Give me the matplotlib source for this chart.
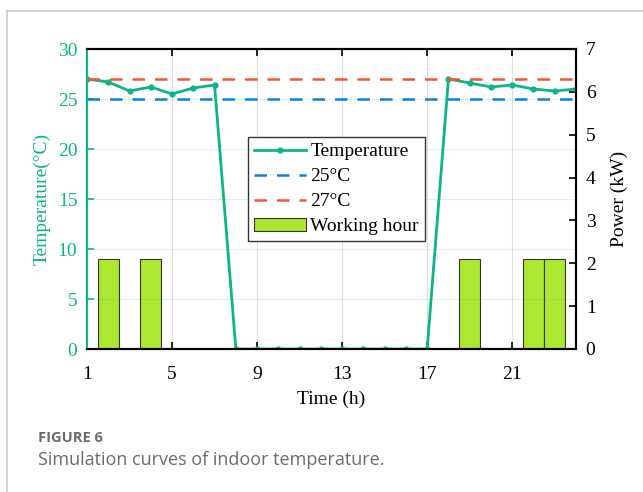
import numpy as np
import matplotlib.pyplot as plt
from matplotlib.patches import Patch
from matplotlib.lines import Line2D

# data
hours = list(range(1, 25))
temperature = [27.0, 26.7, 25.8, 26.2, 25.5, 26.1, 26.4, 0, 0, 0, 0, 0,
               0, 0, 0, 0, 0, 27.0, 26.6, 26.2, 26.4, 26.0, 25.8, 26.0]
power = [0, 2.1, 0, 2.1, 0, 0, 0, 0, 0, 0, 0, 0,
         0, 0, 0, 0, 0, 0, 2.1, 0, 0, 2.1, 2.1, 0]
low_limit = 25
high_limit = 27
xticks = [1, 5, 9, 13, 17, 21]

green = "#0DB488"
blue = "#0B80E3"
orange = "#F0582F"
barcol = "#AEE732"
fs = 14

plt.rcParams['font.family'] = ['Liberation Serif', 'DejaVu Serif']

W, H = 643, 492
fig = plt.figure(figsize=(W / 100, H / 100), dpi=100)

# frame lines around the figure panel
fig.add_artist(Line2D([7 / W, 1], [1 - 11 / H, 1 - 11 / H], color="#cccccc", lw=1.2))
fig.add_artist(Line2D([7 / W, 7 / W], [0, 1 - 11 / H], color="#cccccc", lw=1.2))

ax = fig.add_axes([87 / W, 1 - 349 / H, (576 - 87) / W, (349 - 49) / H])
ax2 = ax.twinx()
ax.set_zorder(ax2.get_zorder() + 1)
ax.patch.set_visible(False)

# bars (power) on the right axis
ax2.bar(hours, power, width=1.0, color=barcol, edgecolor="#333333", linewidth=0.8)
ax2.set_ylim(0, 7)
ax2.set_yticks(range(0, 8))
ax2.set_ylabel("Power (kW)", fontsize=fs, labelpad=11)

# temperature + limits on the left axis
ax.plot(hours, temperature, color=green, lw=2, marker="o", ms=3.5)
ax.axhline(low_limit, color=blue, lw=1.8, ls=(0, (5, 4)))
ax.axhline(high_limit, color=orange, lw=1.8, ls=(0, (5, 4)))
ax.set_xlim(1, 24)
ax.set_ylim(0, 30)
ax.set_xticks(xticks)
ax.set_yticks(range(0, 31, 5))
ax.set_xlabel("Time (h)", fontsize=fs, labelpad=6)
ax.set_ylabel("Temperature(°C)", fontsize=fs, color=green, labelpad=5)

# grids: horizontal green-ish, vertical gray
for y in range(5, 30, 5):
    ax.axhline(y, color=green, alpha=0.15, lw=0.8, zorder=0)
for x in xticks[1:]:
    ax.axvline(x, color="black", alpha=0.12, lw=0.8, zorder=0)

ax.tick_params(axis="both", direction="in", length=5, width=1.2, labelsize=fs, top=True)
ax.tick_params(axis="x", pad=12)
ax.tick_params(axis="y", colors=green, pad=7)
ax2.tick_params(axis="y", direction="in", length=5, width=1.2, labelsize=fs, pad=7)
for a in (ax, ax2):
    for s in a.spines.values():
        s.set_linewidth(1.5)
ax.spines["left"].set_color(green)
ax2.spines["left"].set_color(green)

handles = [
    Line2D([], [], color=green, lw=2, marker="o", ms=3.5),
    Line2D([], [], color=blue, lw=1.8, ls=(0, (5, 4))),
    Line2D([], [], color=orange, lw=1.8, ls=(0, (5, 4))),
    Patch(facecolor=barcol, edgecolor="#333333", linewidth=0.8),
]
labels = ["Temperature", "25°C", "27°C", "Working hour"]
leg = ax.legend(handles, labels, loc="upper left", bbox_to_anchor=(248 / W, 1 - 137 / H),
                bbox_transform=fig.transFigure, fontsize=fs, frameon=True, fancybox=False,
                edgecolor="#333333", framealpha=1, borderpad=0.3, labelspacing=0.38,
                handlelength=2.7, handletextpad=0.2, borderaxespad=0)
leg.get_frame().set_linewidth(1.0)

# caption
fig.text(38 / W, 1 - 438 / H, "FIGURE 6", family="Open Sans", fontsize=10.5,
         fontweight="bold", color="#6b6b6b", va="center")
fig.text(38 / W, 1 - 460 / H, "Simulation curves of indoor temperature.", family="Open Sans",
         fontsize=13, color="#6b6b6b", va="center")

fig.savefig("out.png", dpi=100)
